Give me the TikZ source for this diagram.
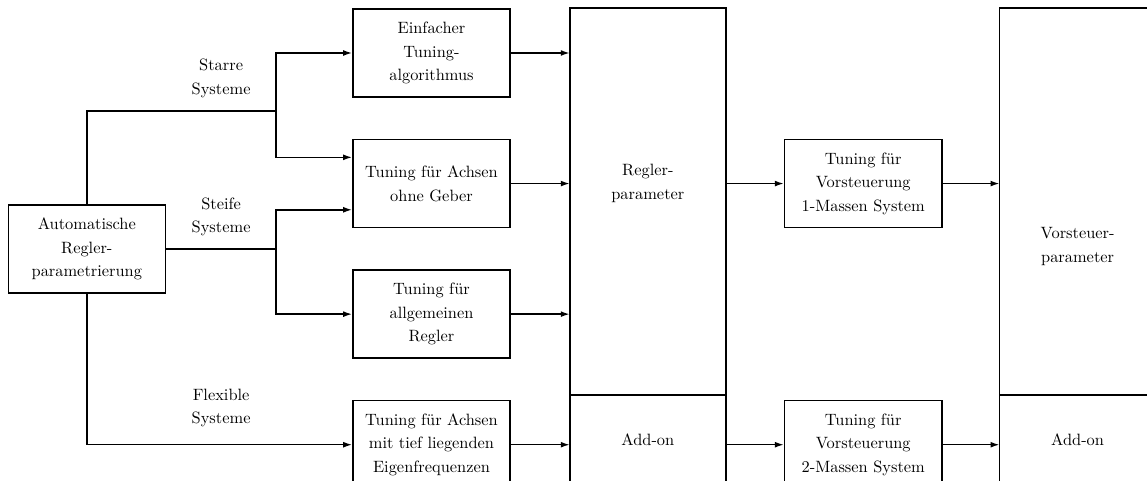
\documentclass[tikz,border=0pt]{standalone}
\usepackage{tikz}
\usetikzlibrary{positioning,arrows.meta,calc}

\begin{document}
\begin{tikzpicture}[x=0.61pt,y=-0.61pt,font=\fontsize{10}{14.4}\selectfont,line width=0.95pt]
  \tikzstyle{blk}=[rectangle,draw,align=center,text width=88pt,minimum width=95.8pt,minimum height=53.7pt,inner sep=2pt]
  \tikzstyle{big}=[rectangle,draw,outer sep=0pt,minimum width=95.2pt]
  \tikzstyle{lbl}=[align=center,above,yshift=4pt]
  \tikzstyle{arr}=[-{Latex[length=5.5pt,width=3.6pt]}]
  \useasboundingbox (0,0) rectangle (1147,481);
  \node[blk] (B1) at (431.5,53) {Einfacher\\Tuning-\\algorithmus};
  \node[blk] (B2) [below=25pt of B1] {Tuning f\"ur Achsen\\ohne Geber};
  \node[blk] (B3) [below=25pt of B2] {Tuning f\"ur\\allgemeinen\\Regler};
  \node[blk] (B4) [below=25pt of B3] {Tuning f\"ur Achsen\\mit tief liegenden\\Eigenfrequenzen};
  \coordinate (m) at ($(B2.west)!0.5!(B3.west)$);
  \node[blk] (A) [left=113.5pt of m] {Automatische\\Regler-\\parametrierung};
  \node[big,anchor=north west,minimum height=236pt] (Cp) at ($(B1.north east)+(36pt,0)$) {};
  \node[big,anchor=north,minimum height=55pt] (Ca) at (Cp.south) {Add-on};
  \node[align=center] (Ct) at (Cp.center |- B2) {Regler-\\parameter};
  \coordinate (c2) at (Cp.east |- B2);
  \coordinate (c4) at (Ca.east |- B4);
  \node[blk] (D1) [right=35.4pt of c2] {Tuning f\"ur\\Vorsteuerung\\1-Massen System};
  \node[blk] (D2) [right=35.4pt of c4] {Tuning f\"ur\\Vorsteuerung\\2-Massen System};
  \node[big,anchor=north west,minimum height=236pt] (Ep) at ($(D1.east |- Cp.north)+(34.8pt,0)$) {};
  \node[big,anchor=north,minimum height=55pt] (Ea) at (Ep.south) {Add-on};
  \node[align=center] (Et) at ($(Ep.north)!0.5!(Ea.south)$) {Vorsteuer-\\parameter};
  \coordinate (j1) at ($(B1.south west)+(-46.4pt,-7.9pt)$);
  \coordinate (j2) at (j1 |- A);
  \coordinate (b2a) at ($(B2.west)+(0,16pt)$);
  \coordinate (b2b) at ($(B2.west)+(0,-16pt)$);
  \draw (A.north) |- (j1);
  \draw[arr] (j1) |- (B1.west);
  \draw[arr] (j1) |- (b2a);
  \draw (A.east) -- node[lbl] {Steife\\Systeme} (j2);
  \draw[arr] (j2) |- (b2b);
  \draw[arr] (j2) |- (B3.west);
  \draw[arr] (A.south) |- (B4.west);
  \path (A.east |- j1) -- node[lbl] {Starre\\Systeme} (j1);
  \path (A.east |- B4) -- node[lbl,yshift=3pt] {Flexible\\Systeme} (j2 |- B4);
  \draw[arr] (B1.east) -- (B1.east -| Cp.west);
  \draw[arr] (B2.east) -- (B2.east -| Cp.west);
  \draw[arr] (B3.east) -- (B3.east -| Cp.west);
  \draw[arr] (B4.east) -- (B4.east -| Ca.west);
  \draw[arr] (c2) -- (D1.west);
  \draw[arr] (D1.east) -- (D1.east -| Ep.west);
  \draw[arr] (c4) -- (D2.west);
  \draw[arr] (D2.east) -- (D2.east -| Ea.west);
\end{tikzpicture}
\end{document}
